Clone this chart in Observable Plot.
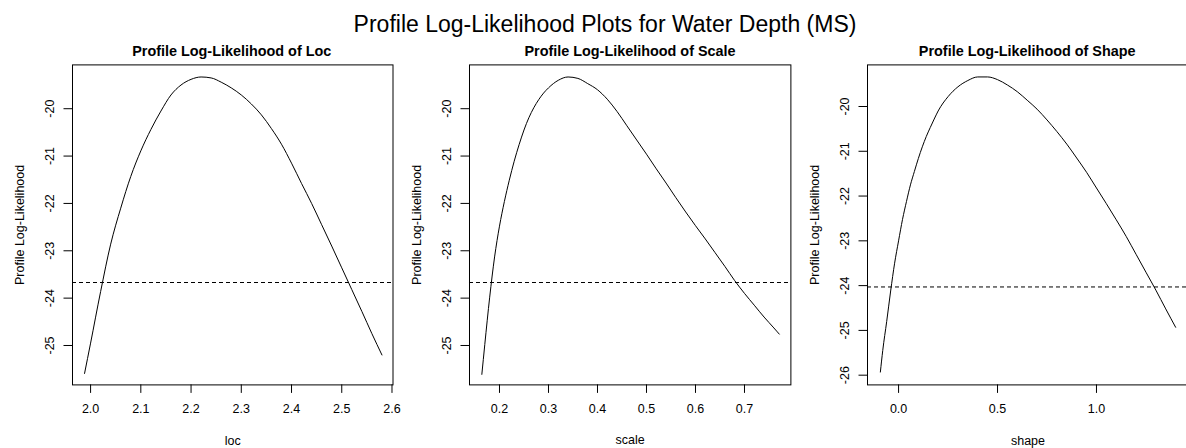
<!DOCTYPE html>
<html><head><meta charset="utf-8">
<script src="https://cdn.jsdelivr.net/npm/d3@7"></script>
<script src="https://cdn.jsdelivr.net/npm/@observablehq/plot@0.6"></script>
<style>
body{margin:0;background:#fff;}
#wrap{position:relative;width:1186px;height:448px;overflow:hidden;background:#fff;font-family:"Liberation Sans",Arial,sans-serif;color:#000;}
.t{position:absolute;transform:translate(-50%,-50%);white-space:nowrap;line-height:1;}
.panel{position:absolute;top:0;}
</style></head><body><div id="wrap"></div>
<script>
// ---- data ----
const mainTitle = "Profile Log-Likelihood Plots for Water Depth (MS)";
const yLabel = "Profile Log-Likelihood";

const locX = [1.988, 2.00, 2.02, 2.04, 2.06, 2.08, 2.10, 2.12, 2.14, 2.16, 2.18, 2.20, 2.22, 2.24, 2.26, 2.28, 2.30, 2.32, 2.34, 2.36, 2.38, 2.40, 2.42, 2.44, 2.46, 2.48, 2.50, 2.52, 2.54, 2.56, 2.58];
const locY = [-25.59, -24.95, -23.86, -22.86, -22.10, -21.43, -20.89, -20.44, -20.05, -19.71, -19.50, -19.38, -19.33, -19.35, -19.44, -19.56, -19.71, -19.90, -20.13, -20.42, -20.75, -21.15, -21.58, -22.00, -22.45, -22.90, -23.36, -23.82, -24.28, -24.75, -25.20];
const locTicksX = [2.0, 2.1, 2.2, 2.3, 2.4, 2.5, 2.6];
const locTicksY = [-25, -24, -23, -22, -21, -20];
const locCut = -23.67;

const scaleX = [0.164, 0.17, 0.18, 0.19, 0.20, 0.21, 0.22, 0.23, 0.24, 0.25, 0.26, 0.27, 0.28, 0.29, 0.30, 0.32, 0.34, 0.36, 0.38, 0.40, 0.42, 0.44, 0.46, 0.48, 0.50, 0.52, 0.54, 0.56, 0.58, 0.60, 0.62, 0.64, 0.66, 0.68, 0.70, 0.72, 0.74, 0.76, 0.771];
const scaleY = [-25.61, -24.98, -23.98, -23.13, -22.48, -21.96, -21.51, -21.11, -20.76, -20.45, -20.19, -19.98, -19.81, -19.67, -19.56, -19.40, -19.33, -19.36, -19.47, -19.60, -19.80, -20.06, -20.36, -20.66, -20.96, -21.27, -21.57, -21.88, -22.18, -22.47, -22.75, -23.04, -23.33, -23.63, -23.90, -24.15, -24.40, -24.63, -24.76];
const scaleTicksX = [0.2, 0.3, 0.4, 0.5, 0.6, 0.7];
const scaleTicksY = [-25, -24, -23, -22, -21, -20];
const scaleCut = -23.67;

const shapeX = [-0.092, -0.08, -0.06, -0.04, -0.02, 0.00, 0.02, 0.04, 0.06, 0.08, 0.10, 0.12, 0.14, 0.16, 0.18, 0.20, 0.25, 0.30, 0.35, 0.40, 0.45, 0.50, 0.55, 0.60, 0.65, 0.70, 0.75, 0.80, 0.85, 0.90, 0.95, 1.00, 1.05, 1.10, 1.15, 1.20, 1.25, 1.30, 1.35, 1.40];
const shapeY = [-25.93, -25.45, -24.80, -24.12, -23.50, -23.00, -22.52, -22.12, -21.75, -21.45, -21.16, -20.90, -20.67, -20.47, -20.28, -20.10, -19.78, -19.56, -19.42, -19.34, -19.34, -19.40, -19.52, -19.67, -19.86, -20.06, -20.30, -20.56, -20.84, -21.15, -21.47, -21.82, -22.17, -22.53, -22.90, -23.30, -23.70, -24.10, -24.52, -24.93];
const shapeTicksX = [0.0, 0.5, 1.0];
const shapeTicksY = [-26, -25, -24, -23, -22, -21, -20];
const shapeCut = -24.03;

// ---- layout ----
const panels = [
  {title: "Profile Log-Likelihood of Loc", xlabel: "loc", xs: locX, ys: locY, xt: locTicksX, yt: locTicksY, cut: locCut,
   xDomain: [1.964, 2.602], yDomain: [-25.832, -19.075], frameLeft: 71.5, frameWidth: 320.5},
  {title: "Profile Log-Likelihood of Scale", xlabel: "scale", xs: scaleX, ys: scaleY, xt: scaleTicksX, yt: scaleTicksY, cut: scaleCut,
   xDomain: [0.1388, 0.7947], yDomain: [-25.832, -19.075], frameLeft: 469.3, frameWidth: 321.4},
  {title: "Profile Log-Likelihood of Shape", xlabel: "shape", xs: shapeX, ys: shapeY, xt: shapeTicksX, yt: shapeTicksY, cut: shapeCut,
   xDomain: [-0.157, 1.465], yDomain: [-26.217, -19.071], frameLeft: 866.7, frameWidth: 321}
];

const H = 448, frameTop = 64.4, frameBottom = 384.4;
const ML = 72, MR = 8;
const FS = 12.5;
const FONT = "'Liberation Sans', Arial, sans-serif";
const wrap = document.getElementById("wrap");

function addText(txt, cx, cy, css) {
  const d = document.createElement("div");
  d.className = "t";
  d.textContent = txt;
  d.style.left = cx + "px";
  d.style.top = cy + "px";
  Object.assign(d.style, css);
  wrap.appendChild(d);
}

for (const p of panels) {
  const data = p.xs.map((x, i) => ({x, y: p.ys[i]}));
  const fmt = d3.format(".1f");
  const chart = Plot.plot({
    width: ML + p.frameWidth + MR,
    height: H,
    marginLeft: ML, marginRight: MR, marginTop: frameTop, marginBottom: H - frameBottom,
    style: {background: "transparent", fontFamily: FONT, fontSize: FS + "px", color: "#000", overflow: "visible"},
    x: {domain: p.xDomain},
    y: {domain: p.yDomain},
    marks: [
      Plot.frame({stroke: "#000", strokeWidth: 1}),
      Plot.ruleY([p.cut], {stroke: "#000", strokeWidth: 1, strokeDasharray: "4,3"}),
      Plot.line(data, {x: "x", y: "y", stroke: "#000", strokeWidth: 1, curve: "monotone-x"}),
      Plot.axisX({ticks: p.xt, tickSize: 8.5, tickPadding: 10.3, tickFormat: fmt, label: null, fontSize: FS, stroke: "#000", fill: "#000"}),
      Plot.axisY({ticks: p.yt, tickSize: 8.5, fill: "none", stroke: "#000", label: null}),
      Plot.text(p.yt, {y: d => d, text: d => String(d), frameAnchor: "left", dx: -23, rotate: -90, textAnchor: "middle", lineAnchor: "middle", fontSize: FS, fill: "#000"}),
      Plot.text([p.xlabel], {text: d => d, frameAnchor: "bottom", dy: 55.6, lineAnchor: "middle", textAnchor: "middle", fontSize: FS, fill: "#000"}),
      Plot.text([yLabel], {text: d => d, frameAnchor: "left", dx: -53, rotate: -90, lineAnchor: "middle", textAnchor: "middle", fontSize: FS, fill: "#000"})
    ]
  });
  chart.classList.add("panel");
  chart.style.left = (p.frameLeft - ML) + "px";
  wrap.appendChild(chart);
  addText(p.title, p.frameLeft + p.frameWidth / 2, 50.8, {fontWeight: "bold", fontSize: "14.4px"});
}
addText(mainTitle, 605, 24, {fontSize: "23px"});
</script>
</body></html>
